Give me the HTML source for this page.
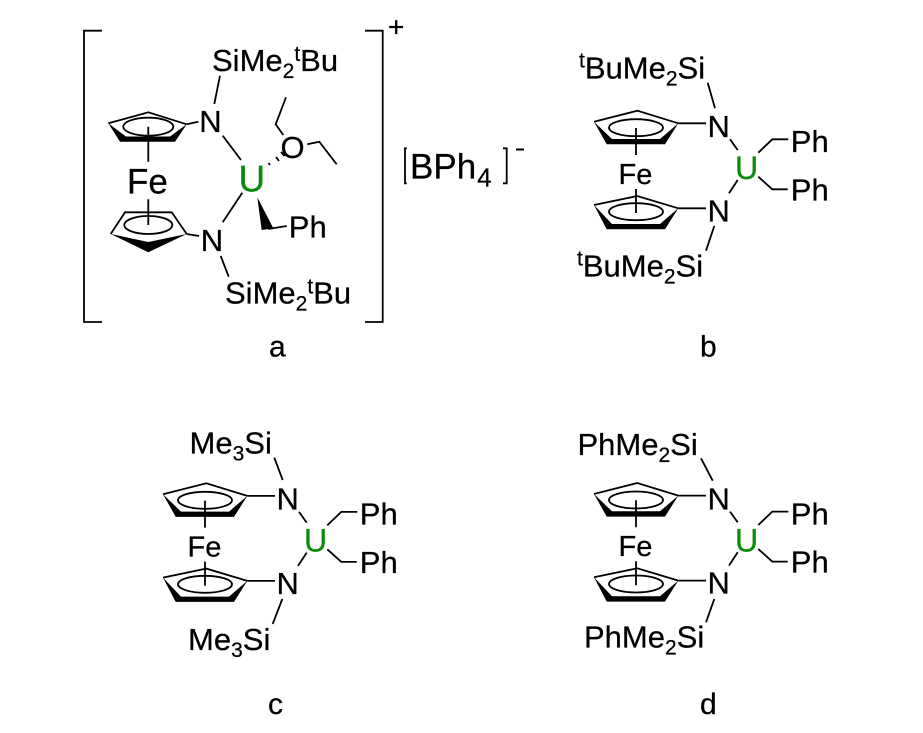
<!DOCTYPE html>
<html>
<head>
<meta charset="utf-8">
<style>
html,body{margin:0;padding:0;background:#fff;width:923px;height:733px;overflow:hidden}
svg{display:block}
text{font-family:"Liberation Sans",Arial,sans-serif;font-size:31px;fill:#000;stroke:#000;stroke-width:.25}
.s{font-size:21px}
.l{fill:none;stroke:#000;stroke-width:1.8}
.u{fill:#0a8a0a;stroke:#0a8a0a;font-size:37px}
</style>
</head>
<body>
<svg width="923" height="733" viewBox="0 0 923 733" xmlns="http://www.w3.org/2000/svg">
<defs>
<g id="fc">
<path class="l" d="M594 121.7L637.3 110.7L678.3 123.3M594 205L637.3 196L678.3 208.3"/>
<path d="M594 121.7L606.7 144.3H665L678.3 123.3L660 139H612Z"/>
<path d="M594 205L606.7 229.3H665L678.3 208.3L660 224H612Z"/>
<ellipse class="l" cx="636" cy="127.7" rx="27" ry="8.5"/>
<ellipse class="l" cx="636" cy="211.7" rx="27" ry="8.5"/>
<path class="l" d="M636 128V155M636 189V213M678.3 123.3H706M678.3 208.3H706"/>
<text x="618.5" y="183.8" style="font-size:29px">Fe</text>
<text x="707.5" y="137">N</text>
<text x="707.5" y="221.3">N</text>
<text x="735" y="179" class="u" style="font-size:32px">U</text>
<text x="790.8" y="152">Ph</text>
<text x="790.8" y="200.3">Ph</text>
<path class="l" d="M730 139.3L737.7 150M737.7 180L729 193.3M758.3 152.7L772.3 139.3H788.3M758.3 176.7L772.3 189.3H787.7"/>
</g>
</defs>

<!-- a -->
<path class="l" d="M102 30.7H84V322H102M365 30.7H382.7V322H365"/>
<text x="388" y="36.5" style="font-size:28px">+</text>
<path class="l" d="M108.3 123.3L148.3 112.3L186.7 124.3M110.7 234L125 212.3H171.7L186.7 234"/>
<path d="M108.3 123.3L120 141.7H175L186.7 124.3L170 136.5H126Z"/>
<path d="M110.7 234L148.3 252.3L186.7 234L148.3 242Z"/>
<ellipse class="l" cx="148.3" cy="126.7" rx="25" ry="9"/>
<ellipse class="l" cx="148.3" cy="225" rx="24" ry="9"/>
<path class="l" d="M148.3 126.7V161.7M148.3 199.3V225M186.7 124.3L198.3 121.7M186.7 234L199 236"/>
<text x="127" y="193.5" style="font-size:35px">Fe</text>
<text x="199.3" y="132">N</text>
<text x="200.8" y="251">N</text>
<text x="238.5" y="191.7" class="u">U</text>
<text x="280.5" y="158">O</text>
<text x="288.8" y="237.5">Ph</text>
<text x="212" y="71">SiMe<tspan class="s" dy="7">2</tspan><tspan class="s" dy="-17">t</tspan><tspan dy="10">Bu</tspan></text>
<text x="225" y="303.3">SiMe<tspan class="s" dy="7">2</tspan><tspan class="s" dy="-17">t</tspan><tspan dy="10">Bu</tspan></text>
<path class="l" d="M220 75.7L214.3 104M222.7 135.7L241 160M242.3 192.7L222.7 222.3M220.7 256L228.7 276.7M268.3 229L286.7 226M307.3 144.3L319.3 141.7L336.7 164.3M283.3 135L275.7 124.3L286 97.3"/>
<path d="M257.3 197.3L261.7 230L273.3 228.3Z"/>
<path class="l" d="M268.5 163L270 165M276 157L279 161M281 152L284.5 156"/>
<path class="l" d="M406.7 148.3H405V183.3H406.7M503 148.3H506.7V183.3H503"/>
<text x="410" y="178.5" style="font-size:35px">BPh<tspan style="font-size:26px" dx="1" dy="8">4</tspan></text>
<path d="M516 148.5H524V150.5H516Z"/>
<text x="269" y="356.7" style="font-size:30px">a</text>
<text x="700" y="356.7" style="font-size:30px">b</text>

<!-- b -->
<use href="#fc"/>
<text x="579" y="78.5"><tspan class="s" dy="-11">t</tspan><tspan dy="11">BuMe</tspan><tspan class="s" dy="7">2</tspan><tspan dy="-7">Si</tspan></text>
<text x="577" y="276.3"><tspan class="s" dy="-11">t</tspan><tspan dy="11">BuMe</tspan><tspan class="s" dy="7">2</tspan><tspan dy="-7">Si</tspan></text>
<path class="l" d="M707.7 82.7L715 108.3M714.3 226L706 250.7"/>

<!-- c -->
<g transform="translate(-431 372.6)"><use href="#fc"/></g>
<text x="189.5" y="453.3">Me<tspan class="s" dy="7">3</tspan><tspan dy="-7">Si</tspan></text>
<text x="188" y="650">Me<tspan class="s" dy="7">3</tspan><tspan dy="-7">Si</tspan></text>
<path class="l" d="M274.3 457.7L282.7 480M282.3 599L272.7 624"/>
<text x="268" y="714" style="font-size:30px">c</text>

<!-- d -->
<g transform="translate(0 372.3)"><use href="#fc"/></g>
<text x="577.5" y="455">PhMe<tspan class="s" dy="7">2</tspan><tspan dy="-7">Si</tspan></text>
<text x="584" y="647.7">PhMe<tspan class="s" dy="7">2</tspan><tspan dy="-7">Si</tspan></text>
<path class="l" d="M701 458.3L712.7 480.7M714.3 599L706 622.3"/>
<text x="700" y="714" style="font-size:30px">d</text>
</svg>
</body>
</html>
